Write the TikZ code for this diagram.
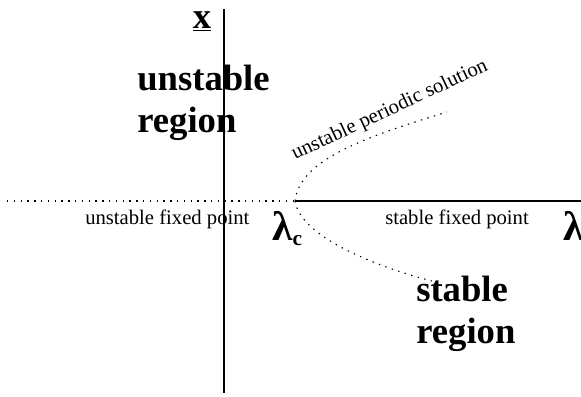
\documentclass[tikz,border=0pt]{standalone}
\usepackage{fontspec}
\setmainfont{Liberation Serif}
\begin{document}
\begin{tikzpicture}[x=0.75pt,y=-0.75pt,
  axis/.style={line width=0.9pt},
  dotline/.style={line width=0.8pt,dash pattern=on 1.1pt off 4pt},
  small/.style={font=\fontsize{15.5}{18}\selectfont,inner sep=0pt},
  big/.style={font=\fontsize{27.5}{31}\selectfont\bfseries,inner sep=0pt,align=left},
  greek/.style={font=\fontsize{31}{34}\selectfont\bfseries,inner sep=0pt}]
\useasboundingbox (0,0) rectangle (581,396);
\coordinate (top) at (224,9);
\coordinate (bot) at (224,393);
\coordinate (left) at (7,201);
\coordinate (c) at (295,201);
\coordinate (right) at (581,201);
\coordinate (ue) at (447,112);
\coordinate (se) at (432,281);
\draw[axis] (top) -- (bot);
\draw[dotline] (left) -- (c);
\draw[axis] (c) -- (right);
\draw[dotline] (c) .. controls (300,160) and (362,138) .. (ue);
\draw[dotline] (c) .. controls (300,235) and (370,265) .. (se);
\node[big,anchor=base] (x) at (202,28) {\underline{x}};
\node[big,anchor=base west] (ur) at (137,132) {unstable\\region};
\node[big,anchor=base west] (sr) at (416,343) {stable\\region};
\node[small,anchor=base west] (ufp) at (85,224) {unstable fixed point};
\node[small,anchor=base west] (sfp) at (385,224) {stable fixed point};
\node[small,anchor=base west,rotate=25] (ups) at (295,160) {unstable periodic solution};
\node[greek,anchor=base west] (lc) at (272,240) {λ\raisebox{-4pt}{\fontsize{16}{18}\selectfont c}};
\node[greek,anchor=base west] (l) at (563,240) {λ};
\end{tikzpicture}
\end{document}
